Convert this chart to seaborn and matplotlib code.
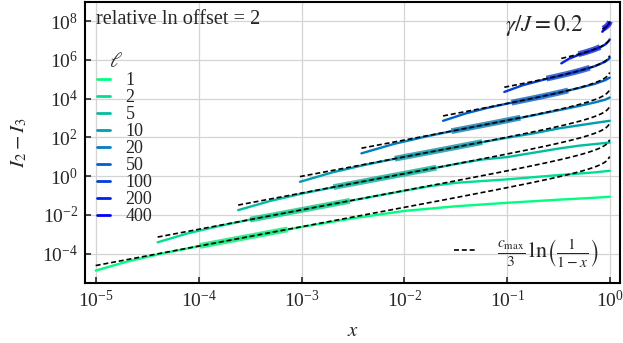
import numpy as np
import pandas as pd
import matplotlib
matplotlib.use("Agg")
import matplotlib.pyplot as plt
from matplotlib.lines import Line2D
from matplotlib.ticker import LogFormatterSciNotation, NullLocator, FixedLocator
import seaborn as sns

# ---------------------------------------------------------------------------
# data: subsystem sizes, fit parameters and measured I2 - I3 curves
# ---------------------------------------------------------------------------
ells = [1, 2, 5, 10, 20, 50, 100, 200, 400]
ln_offset = 2.0          # each successive curve is shifted by +2 in ln
gamma_over_J = 0.2
c_max = 7.2

# log10(x) and log10(I2 - I3) (raw, before the ln offset) for every ell
logx_l1 = [-5.0, -4.7, -4.4, -4.0, -3.5, -3.0, -2.5, -2.0, -1.5, -1.0, -0.5, -0.15, -0.0066]
logy_l1 = [-4.88, -4.42, -4.05, -3.62, -3.12, -2.63, -2.18, -1.80, -1.56, -1.38, -1.22, -1.12, -1.07]

logx_l2 = [-4.398, -4.1, -3.8, -3.5, -3.0, -2.5, -2.0, -1.75, -1.5, -1.0, -0.5, -0.15, -0.0066]
logy_l2 = [-4.289, -3.819, -3.449, -3.119, -2.619, -2.119, -1.629, -1.389, -1.219, -1.039, -0.819, -0.679, -0.599]

logx_l5 = [-3.616, -3.3, -3.0, -2.5, -2.0, -1.5, -1.25, -1.0, -0.75, -0.5, -0.3, -0.15, -0.0066]
logy_l5 = [-3.497, -3.017, -2.647, -2.117, -1.617, -1.117, -0.887, -0.757, -0.537, -0.317, -0.167, -0.087, -0.007]

logx_l10 = [-3.016, -2.7, -2.4, -2.0, -1.5, -1.25, -1.0, -0.75, -0.5, -0.3, -0.15, -0.0066]
logy_l10 = [-2.906, -2.416, -2.046, -1.616, -1.116, -0.866, -0.626, -0.406, -0.146, 0.014, 0.134, 0.244]

logx_l20 = [-2.418, -2.1, -1.8, -1.5, -1.0, -0.75, -0.5, -0.3, -0.15, -0.05, -0.0066]
logy_l20 = [-2.304, -1.814, -1.444, -1.114, -0.604, -0.344, -0.074, 0.146, 0.326, 0.466, 0.576]

logx_l50 = [-1.625, -1.4, -1.2, -1.0, -0.75, -0.5, -0.3, -0.15, -0.05, -0.0066]
logy_l50 = [-1.493, -1.103, -0.833, -0.603, -0.333, -0.043, 0.207, 0.417, 0.607, 0.737]

logx_l100 = [-1.03, -0.85, -0.65, -0.5, -0.3, -0.15, -0.05, -0.0132, -0.0066]
logy_l100 = [-0.872, -0.522, -0.242, -0.052, 0.218, 0.458, 0.688, 0.838, 0.908]

logx_l200 = [-0.476, -0.4, -0.3, -0.2, -0.1, -0.05, -0.0132, -0.0066]
logy_l200 = [-0.265, -0.02, 0.19, 0.36, 0.56, 0.71, 0.90, 0.97]

logx_l400 = [-0.078, -0.04, -0.0132, -0.0066]
logy_l400 = [0.50, 0.73, 0.91, 0.99]

# log10 of the x-window used for the fit of each ell
fit_lo = [-3.987, -3.50, -2.69, -2.094, -1.544, -0.96, -0.62, -0.31, -0.07]
fit_hi = [-3.136, -2.53, -1.69, -1.245, -0.874, -0.41, -0.20, -0.10, -0.005]

# upper end of the analytic curve
x_theory_max = 0.985

logx_all = [logx_l1, logx_l2, logx_l5, logx_l10, logx_l20,
            logx_l50, logx_l100, logx_l200, logx_l400]
logy_all = [logy_l1, logy_l2, logy_l5, logy_l10, logy_l20,
            logy_l50, logy_l100, logy_l200, logy_l400]


def theory(x):
    return c_max / 3.0 * np.log(1.0 / (1.0 - x))


# ---------------------------------------------------------------------------
# style
# ---------------------------------------------------------------------------
sns.set_style("ticks")
plt.rcParams["font.family"] = ["Liberation Serif", "DejaVu Serif"]
plt.rcParams["mathtext.fontset"] = "stix"
plt.rcParams["font.size"] = 14

colors = plt.get_cmap("winter_r")(np.linspace(0, 1, len(ells)))
dash_style = (0, (3.0, 1.7))

fig = plt.figure(figsize=(6.23, 3.43), dpi=100)
ax = fig.add_axes([0.1364, 0.175, 0.9952 - 0.1364, 0.994 - 0.175])
ax.set_xscale("log")
ax.set_yscale("log")

# measured curves
rows = []
for k, ell in enumerate(ells):
    shift = np.exp(ln_offset * k)
    for lx, ly in zip(logx_all[k], logy_all[k]):
        rows.append({"x": 10.0 ** lx, "y": 10.0 ** ly * shift, "ell": ell})
df = pd.DataFrame(rows)
sns.lineplot(data=df, x="x", y="y", hue="ell", palette=list(colors),
             hue_order=ells, estimator=None, sort=False, lw=1.7,
             legend=False, ax=ax)

# fit windows (thick) and analytic curves (dashed)
for k, ell in enumerate(ells):
    shift = np.exp(ln_offset * k)
    xw = np.geomspace(10.0 ** fit_lo[k], 10.0 ** fit_hi[k], 40)
    shade = tuple(np.array(colors[k][:3]) * 0.9)
    sns.lineplot(x=xw, y=theory(xw) * shift, color=shade, alpha=0.75,
                 lw=4.2, ax=ax, solid_capstyle="butt")

for k, ell in enumerate(ells):
    shift = np.exp(ln_offset * k)
    xt = np.geomspace(10.0 ** logx_all[k][0], x_theory_max, 300)
    sns.lineplot(x=xt, y=theory(xt) * shift, color="black", lw=1.2,
                 ax=ax, linestyle=dash_style)

ax.set_xlim(10 ** -5.104, 10 ** 0.094)
ax.set_ylim(10 ** -5.52, 10 ** 8.98)

ax.xaxis.set_major_locator(FixedLocator([1e-5, 1e-4, 1e-3, 1e-2, 1e-1, 1e0]))
ax.yaxis.set_major_locator(FixedLocator([1e-4, 1e-2, 1e0, 1e2, 1e4, 1e6, 1e8]))
ax.xaxis.set_major_formatter(LogFormatterSciNotation())
ax.yaxis.set_major_formatter(LogFormatterSciNotation())
ax.xaxis.set_minor_locator(NullLocator())
ax.yaxis.set_minor_locator(NullLocator())
ax.tick_params(direction="in", length=4, width=1.2, labelsize=14, pad=5)
ax.grid(True, color="#d4d4d4", lw=0.9)
ax.set_axisbelow(True)
for s in ax.spines.values():
    s.set_linewidth(1.5)
    s.set_color("black")

ax.set_xlabel(r"$x$", fontsize=15, labelpad=8)
ax.set_ylabel(r"$I_2 - I_3$", fontsize=15, labelpad=9)

ax.text(0.02, 0.97, f"relative ln offset = {ln_offset:g}", transform=ax.transAxes,
        ha="left", va="top", fontsize=14.6)
ax.text(0.932, 0.962, rf"$\gamma/J = {gamma_over_J:g}$", transform=ax.transAxes,
        ha="right", va="top", fontsize=16.5)

handles = [Line2D([], [], color=colors[k], lw=2) for k in range(len(ells))]
leg = ax.legend(handles, [str(e) for e in ells], title=r"$\ell$",
                loc="upper left", bbox_to_anchor=(0.022, 0.818), frameon=False,
                fontsize=13, title_fontsize=15, handlelength=0.75,
                handletextpad=0.85, labelspacing=0.0, borderaxespad=0.0,
                borderpad=0.0)
leg._legend_box.align = "left"
leg.get_title().set_position((12, 0))
ax.add_artist(leg)

th_handle = [Line2D([], [], color="black", lw=1.2, linestyle=dash_style)]
ax.legend(th_handle,
          [r"$\frac{c_{\max}}{3}\,\ln\!\left(\frac{1}{1-x}\right)$"],
          loc="lower right", bbox_to_anchor=(0.998, -0.022), frameon=False,
          fontsize=16, handlelength=0.95, handletextpad=1.0)

fig.savefig("out.png", dpi=100)
